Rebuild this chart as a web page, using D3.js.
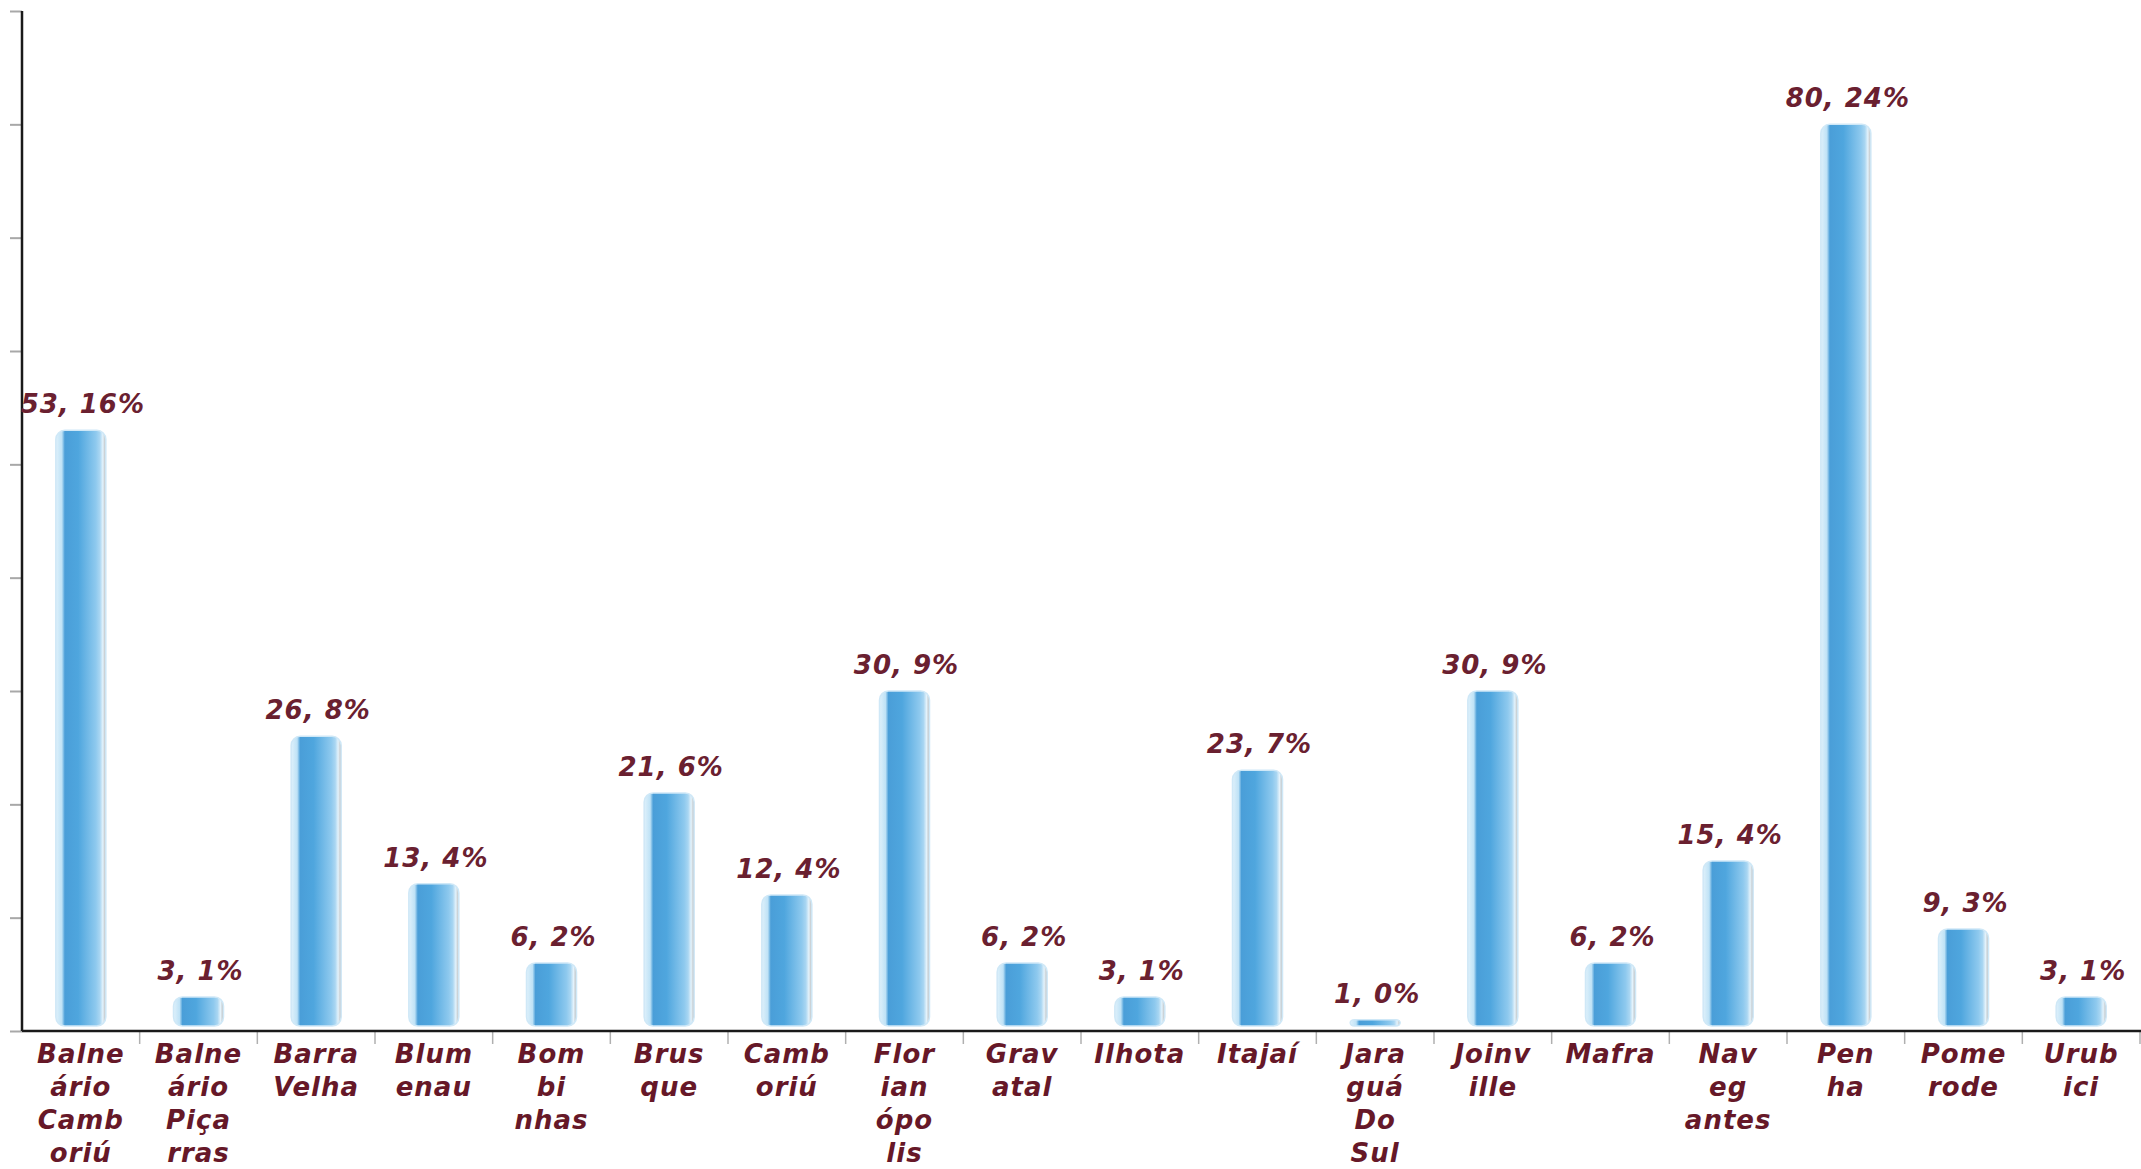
<!DOCTYPE html>
<html>
<head>
<meta charset="utf-8">
<script src="https://cdn.jsdelivr.net/npm/d3@7"></script>
<style>
  body { margin: 0; background: #fff; }
  svg { display: block; }
</style>
</head>
<body>
<div id="chart_id"></div>
<script>
// data
var cities = ["Balneário Camboriú", "Balneário Piçarras", "Barra Velha", "Blumenau", "Bombinhas",
  "Brusque", "Camboriú", "Florianópolis", "Gravatal", "Ilhota", "Itajaí", "Jaraguá Do Sul",
  "Joinville", "Mafra", "Navegantes", "Penha", "Pomerode", "Urubici"];
var tickLines = [["Balne", "ário", "Camb", "oriú"], ["Balne", "ário", "Piça", "rras"], ["Barra", "Velha"],
  ["Blum", "enau"], ["Bom", "bi", "nhas"], ["Brus", "que"], ["Camb", "oriú"], ["Flor", "ian", "ópo", "lis"],
  ["Grav", "atal"], ["Ilhota"], ["Itajaí"], ["Jara", "guá", "Do", "Sul"], ["Joinv", "ille"], ["Mafra"],
  ["Nav", "eg", "antes"], ["Pen", "ha"], ["Pome", "rode"], ["Urub", "ici"]];
var counts = [53, 3, 26, 13, 6, 21, 12, 30, 6, 3, 23, 1, 30, 6, 15, 80, 9, 3];
var percents = [16, 1, 8, 4, 2, 6, 4, 9, 2, 1, 7, 0, 9, 2, 4, 24, 3, 1];
var yTicks = [0, 10, 20, 30, 40, 50, 60, 70, 80, 90];

// set the dimensions of the plot area
var W = 2141, H = 1169;
var plot = {left: 22, right: 2140, top: 11, base: 1031};

var svg = d3.select("#chart_id")
  .append("svg")
    .attr("width", W)
    .attr("height", H);

// horizontal gradient for the glossy bars
var defs = svg.append("defs");
var grad = defs.append("linearGradient")
    .attr("id", "barGrad")
    .attr("x1", "0%").attr("x2", "100%")
    .attr("y1", "0%").attr("y2", "0%");
grad.append("stop").attr("offset", "0%").attr("stop-color", "#dff1fb");
grad.append("stop").attr("offset", "12%").attr("stop-color", "#bfe2f6");
grad.append("stop").attr("offset", "18%").attr("stop-color", "#4a9ed8");
grad.append("stop").attr("offset", "45%").attr("stop-color", "#4fa6de");
grad.append("stop").attr("offset", "80%").attr("stop-color", "#8ec9ee");
grad.append("stop").attr("offset", "88%").attr("stop-color", "#a9d6f2");
grad.append("stop").attr("offset", "94%").attr("stop-color", "#e3f2fb");
grad.append("stop").attr("offset", "100%").attr("stop-color", "#b9b9b9");

var data = cities.map(function(c, i) {
  return { city: c, lines: tickLines[i], n: counts[i], pct: percents[i] };
});

var x = d3.scaleBand()
    .domain(cities)
    .range([plot.left, plot.right]);

var y = d3.scaleLinear()
    .domain([0, 90])
    .range([plot.base, plot.top]);

// y axis: grey ticks, no labels
var yAxis = svg.append("g")
    .attr("transform", "translate(" + plot.left + ",0)")
    .call(d3.axisLeft(y).tickValues(yTicks).tickSize(12).tickFormat(""));
yAxis.select(".domain").remove();
yAxis.selectAll(".tick line").style("stroke", "#a8a8a8").style("stroke-width", 2);
svg.append("line")
    .attr("x1", plot.left).attr("x2", plot.left)
    .attr("y1", plot.top).attr("y2", plot.base)
    .style("stroke", "#1a1a1a").style("stroke-width", 2.5);

// x axis separators
svg.selectAll(".sep")
  .data(cities)
  .enter()
  .append("line")
    .attr("class", "sep")
    .attr("x1", function(d) { return x(d) + x.bandwidth(); })
    .attr("x2", function(d) { return x(d) + x.bandwidth(); })
    .attr("y1", plot.base)
    .attr("y2", plot.base + 13)
    .style("stroke", "#b0b0b0")
    .style("stroke-width", 1.5);

// bars
var barW = 50;
svg.selectAll(".bar")
  .data(data)
  .enter()
  .append("rect")
    .attr("class", "bar")
    .attr("x", function(d) { return x(d.city) + x.bandwidth() / 2 - barW / 2; })
    .attr("y", function(d) { return y(d.n); })
    .attr("width", barW)
    .attr("height", function(d) { return Math.max(plot.base - 5 - y(d.n), 5); })
    .attr("rx", function(d) { return Math.min(9, (plot.base - 5 - y(d.n)) / 2 + 1); })
    .style("fill", "url(#barGrad)")
    .style("stroke", "#cfe8f7")
    .style("stroke-width", 1.5);

// baseline
svg.append("line")
    .attr("x1", plot.left).attr("x2", W)
    .attr("y1", plot.base).attr("y2", plot.base)
    .style("stroke", "#1a1a1a").style("stroke-width", 2.5);

// value labels
svg.selectAll(".val")
  .data(data)
  .enter()
  .append("text")
    .attr("class", "val")
    .attr("x", function(d) { return x(d.city) + x.bandwidth() / 2 + 2; })
    .attr("y", function(d) { return y(d.n) - 17; })
    .attr("text-anchor", "middle")
    .style("font-family", "DejaVu Sans")
    .style("font-size", "26px")
    .style("font-weight", "bold")
    .style("font-style", "italic")
    .style("letter-spacing", "1px")
    .style("fill", "#6a2030")
    .text(function(d) { return d.n + ", " + d.pct + "%"; });

// category labels, wrapped like the original
var cat = svg.selectAll(".cat")
  .data(data)
  .enter()
  .append("text")
    .attr("class", "cat")
    .attr("text-anchor", "middle")
    .style("font-family", "DejaVu Sans")
    .style("font-size", "26px")
    .style("font-weight", "bold")
    .style("font-style", "italic")
    .style("letter-spacing", "1px")
    .style("fill", "#661828");

cat.selectAll("tspan")
  .data(function(d) { return d.lines.map(function(t) { return { t: t, cx: x(d.city) + x.bandwidth() / 2 }; }); })
  .enter()
  .append("tspan")
    .attr("x", function(d) { return d.cx; })
    .attr("y", function(d, i) { return 1063 + i * 33; })
    .text(function(d) { return d.t; });
</script>
</body>
</html>
